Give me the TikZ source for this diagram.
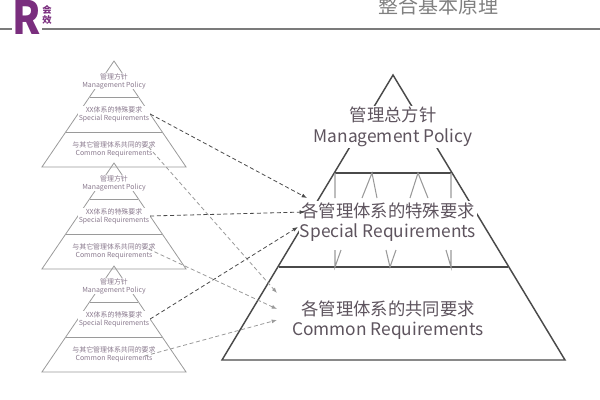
\documentclass[tikz,border=0pt]{standalone}
\usepackage{fontspec}
\setmainfont{Noto Sans CJK SC}
\usetikzlibrary{arrows.meta}
\definecolor{txt}{HTML}{5E545E}
\definecolor{ln}{HTML}{4A4A4A}
\definecolor{lg}{HTML}{9A9A9A}
\definecolor{stxt}{HTML}{8A7A8E}
\definecolor{logo}{HTML}{7A2E7E}
\tikzset{
  big/.style={font=\fontsize{13}{14}\selectfont, text=txt, fill=white, inner sep=1pt},
  small/.style={font=\fontsize{5.2}{6}\selectfont, text=stxt, fill=white, inner sep=0.5pt, align=center},
  darr/.style={densely dashed, draw=ln, line width=0.6pt, -{Latex[length=4pt,width=3pt]}},
  garr/.style={densely dashed, draw=lg, line width=0.6pt, -{Latex[length=4pt,width=3pt]}},
}
\begin{document}
\begin{tikzpicture}[x=0.75pt,y=-0.75pt]
\useasboundingbox (0,0) rectangle (600,400);
% header
\draw[lg!80!black, line width=1.2pt] (0,29) -- (600,29);
\node[font=\fontsize{30}{30}\selectfont\bfseries, text=logo, fill=white, inner sep=1pt, yscale=1.15] (logoR) at (27,17) {R};
\node[font=\fontsize{7}{8}\selectfont\bfseries, text=logo, align=center, inner sep=0pt] (logot) at (47,15) {会\\效};
\node[font=\fontsize{15}{16}\selectfont, text=gray, anchor=center] (title) at (438,6) {整合基本原理};
% small pyramids
\foreach \k/\b in {1/167,2/269,3/372}{
  \coordinate (ap\k) at (114,\b-106);
  \draw[lg, line width=0.6pt] (114-0.68*106,\b) -- (ap\k) -- (114+0.68*106,\b) -- cycle;
  \draw[lg, line width=0.6pt] (114-0.68*36,\b-70) -- (114+0.68*36,\b-70);
  \draw[lg, line width=0.6pt] (114-0.68*71,\b-35) -- (114+0.68*71,\b-35);
  \node[small] (m\k) at (114,\b-86) {管理方针\\Management Policy};
  \node[small] (s\k) at (114,\b-53) {XX体系的特殊要求\\Special Requirements};
  \node[small] (c\k) at (114,\b-18) {与其它管理体系共同的要求\\Common Requirements};
}
% big pyramid
\draw[ln, line width=1.1pt] (222,360) -- (393,75) -- (565,360) -- cycle;
\draw[ln, line width=1pt] (335,173) -- (451,173);
\draw[ln, line width=1pt] (279,267) -- (508,267);
\draw[lg, line width=0.8pt] (335,173) -- (335,198) (451,173) -- (451,198)
  (362,198) -- (372,173) -- (377,198) (410,198) -- (418,173) -- (428,198);
\draw[lg, line width=0.8pt] (335,250) -- (335,267) -- (341,250)
  (386,250) -- (390,267) -- (396,250) (446,250) -- (451,267) -- (451,250);
\node[big] (bm) at (393,127) {\shortstack{管理总方针\\[1pt]Management Policy}};
\node[big] (bs) at (388,222) {\shortstack{各管理体系的特殊要求\\[1pt]Special Requirements}};
\node[big] (bc) at (388,320) {\shortstack{各管理体系的共同要求\\[1pt]Common Requirements}};
\coordinate (e1) at (307,198);
\coordinate (e2) at (305,212);
\coordinate (e3) at (298,227);
\coordinate (f1) at (277,293);
\coordinate (f2) at (277,309);
\coordinate (f3) at (277,320);
% arrows
\draw[garr] (c1.east) ++(-8,-2) -- (f1);
\draw[garr] (c2.east) ++(-8,-2) -- (f2);
\draw[garr] (c3.east) ++(-12,2) -- (f3);
\draw[darr] (s1.east) -- (e1);
\draw[darr] (s2.east) -- (e2);
\draw[darr] (s3.east) -- (e3);
\end{tikzpicture}
\end{document}
